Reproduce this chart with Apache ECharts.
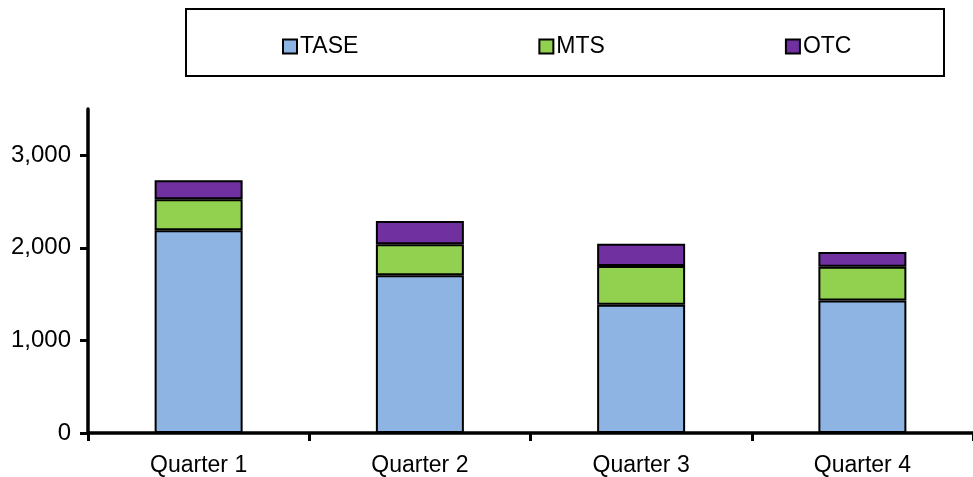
<!DOCTYPE html>
<html>
<head>
<meta charset="utf-8">
<script src="https://cdn.jsdelivr.net/npm/echarts@6/dist/echarts.min.js"></script>
<style>
  html, body { margin: 0; padding: 0; background: #fff; }
  #chart { width: 973px; height: 477px; }
</style>
</head>
<body>
<div id="chart"></div>
<script>
// Quarterly volumes by venue (stacked)
const quarters = ['Quarter 1', 'Quarter 2', 'Quarter 3', 'Quarter 4'];
const tase = [2190, 1705, 1385, 1430];
const mts = [335, 335, 420, 365];
const otc = [205, 250, 240, 160];
const yTicks = [0, 1000, 2000, 3000];

const FONT = "'Liberation Sans', Arial, Helvetica, sans-serif";
const colors = { tase: '#8EB4E3', mts: '#92D050', otc: '#7030A0' };

function barSeries(name, data, color) {
  return {
    name: name,
    type: 'bar',
    stack: 'total',
    barWidth: 88,
    data: data,
    itemStyle: { color: color, borderColor: '#000', borderWidth: 2 },
    emphasis: { disabled: true }
  };
}

const chart = echarts.init(document.getElementById('chart'), null, { renderer: 'canvas' });
chart.setOption({
  animation: false,
  textStyle: { fontFamily: FONT },
  graphic: [{
    type: 'rect',
    shape: { x: 186, y: 9, width: 758, height: 67 },
    style: { fill: 'none', stroke: '#000', lineWidth: 2 },
    z: 10
  }],
  legend: {
    left: 277,
    top: 30,
    itemGap: 180,
    icon: 'rect',
    itemWidth: 14,
    itemHeight: 14,
    selectedMode: false,
    textStyle: { fontFamily: FONT, fontSize: 23, color: '#000', padding: [0, 0, 0, -2] },
    data: ['TASE', 'MTS', 'OTC']
  },
  grid: { left: 88, top: 109, width: 888, height: 324.5, containLabel: false },
  xAxis: {
    type: 'category',
    data: quarters,
    axisLine: { lineStyle: { color: '#000', width: 3.5 } },
    axisTick: { show: true, length: 8, lineStyle: { color: '#000', width: 3 } },
    axisLabel: { color: '#000', fontSize: 23, fontFamily: FONT, margin: 21 },
    splitLine: { show: false }
  },
  yAxis: {
    type: 'value',
    min: 0,
    max: 3500,
    interval: 500,
    axisLine: { show: true, lineStyle: { color: '#000', width: 3.5 } },
    axisTick: { show: true, length: 8, lineStyle: { color: '#000', width: 3 }, customValues: yTicks },
    axisLabel: {
      color: '#000', fontSize: 24, fontFamily: FONT, margin: 17,
      customValues: yTicks,
      formatter: v => v.toLocaleString('en-US')
    },
    splitLine: { show: false }
  },
  series: [
    barSeries('TASE', tase, colors.tase),
    barSeries('MTS', mts, colors.mts),
    barSeries('OTC', otc, colors.otc)
  ]
});
</script>
</body>
</html>
